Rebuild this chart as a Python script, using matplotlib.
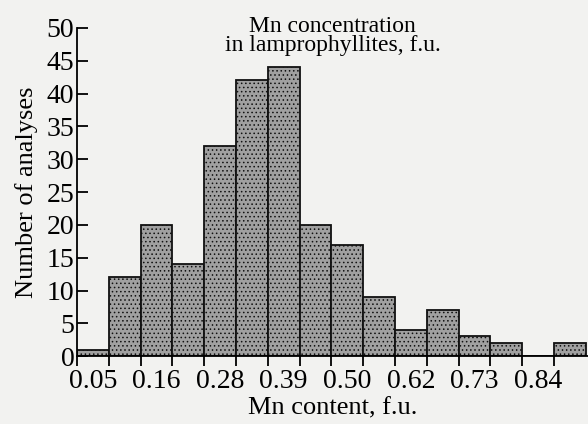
import numpy as np
import matplotlib.pyplot as plt

# histogram of Mn content, one bar per bin (bins shown by index)
counts = [1, 12, 20, 14, 32, 42, 44, 20, 17, 9, 4, 7, 3, 2, 0, 2]
tick_labels = ["0.05", "0.16", "0.28", "0.39", "0.50", "0.62", "0.73", "0.84"]

plt.rcParams['font.family'] = ['Liberation Serif', 'DejaVu Serif']
plt.rcParams['hatch.color'] = '#858585'
plt.rcParams['hatch.linewidth'] = 0.6

fig = plt.figure(figsize=(5.88, 4.24), dpi=100, facecolor='#f2f2f0')
ax = fig.add_axes([0.131, 0.160, 0.869, 0.774])
ax.set_facecolor('#f2f2f0')

n = len(counts)
edges = np.arange(n)
ax.bar(edges, counts, width=1.0, align='edge', color='#a0a0a0',
       edgecolor='#111111', linewidth=1.3, hatch='....')

ax.set_xlim(0, 16.07)
ax.set_ylim(0, 50)
ax.spines['top'].set_visible(False)
ax.spines['right'].set_visible(False)
for s in ['left', 'bottom']:
    ax.spines[s].set_linewidth(1.3)

# ticks at bin edges, labels centred on every other bin
ax.set_xticks(np.arange(0, n))
ax.set_xticklabels([])
ax.set_xticks(np.arange(0.5, n, 2), minor=True)
ax.set_xticklabels(tick_labels, minor=True)
ax.tick_params(axis='x', which='major', direction='out', length=7, width=1.3)
ax.tick_params(axis='x', which='minor', length=0, labelsize=20, pad=9)

ax.set_yticks(np.arange(0, 51, 5))
ax.tick_params(axis='y', direction='in', length=8, width=1.3, labelsize=20, pad=2)

ax.set_xlabel("Mn content, f.u.", fontsize=19, labelpad=3)
ax.set_ylabel("Number of analyses", fontsize=19, labelpad=6)

ax.text(0.5, 1.035, "Mn concentration\nin lamprophyllites, f.u.",
        transform=ax.transAxes, ha='center', va='top', fontsize=17,
        linespacing=0.82)

fig.savefig("out.png", dpi=100, facecolor=fig.get_facecolor())
